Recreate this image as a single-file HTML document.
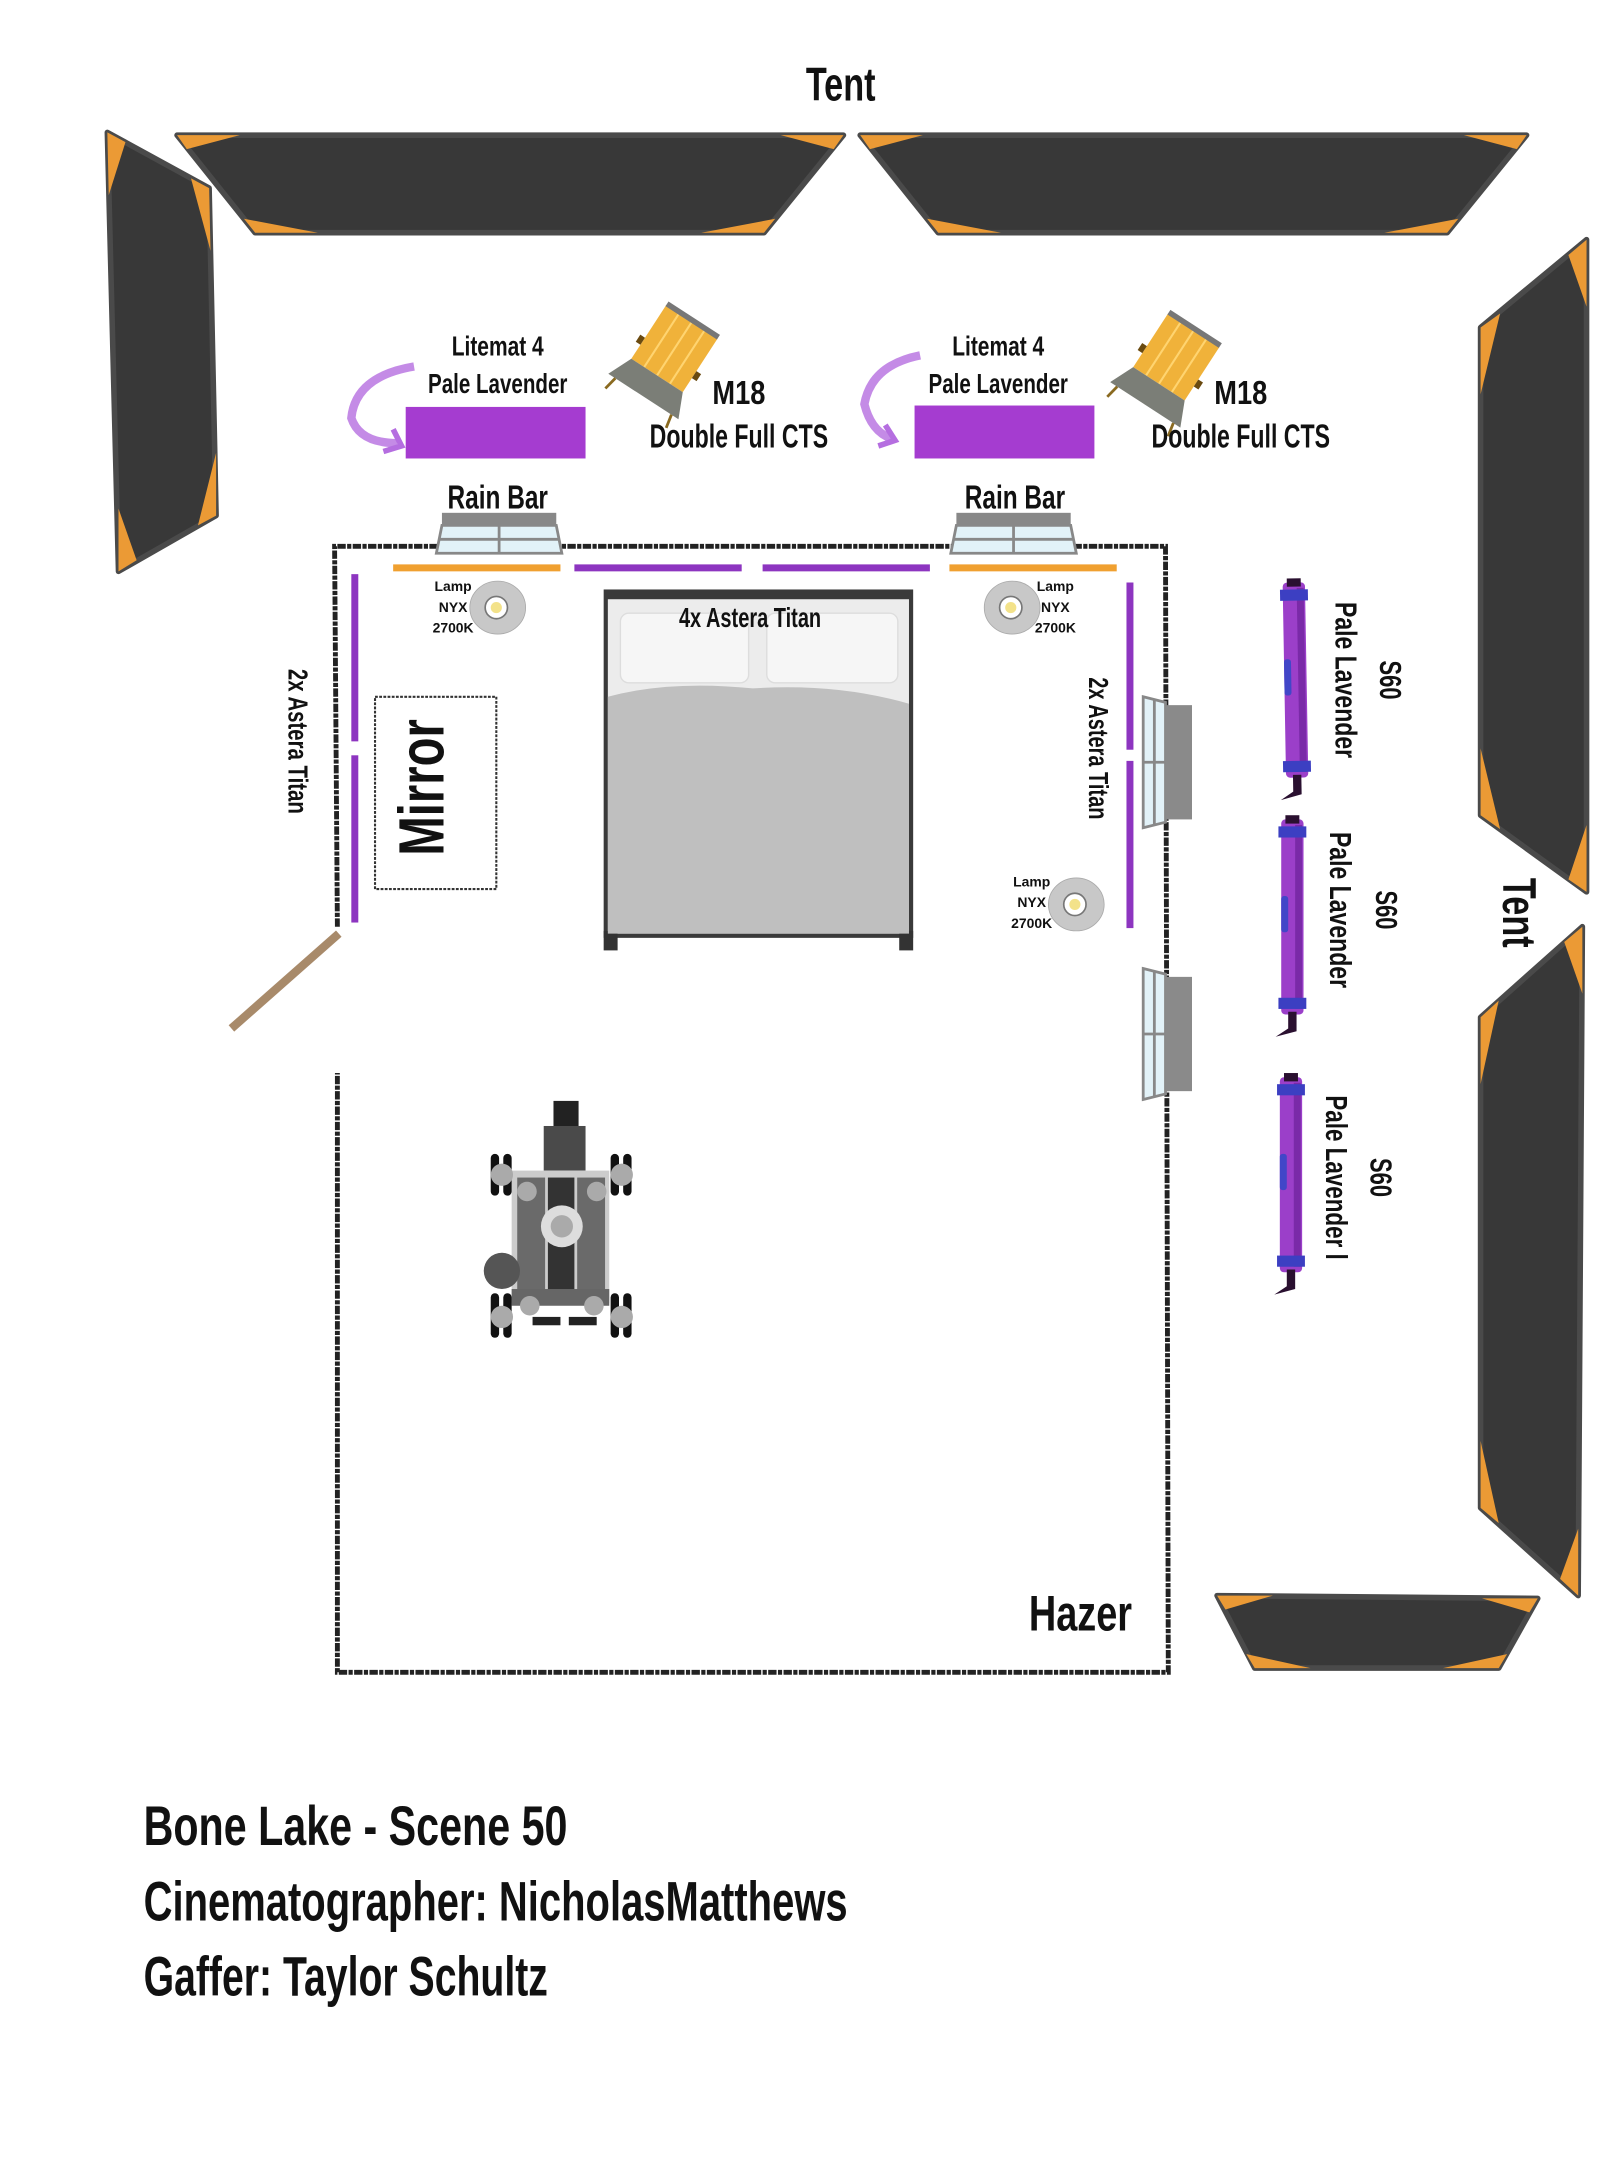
<!DOCTYPE html>
<html><head><meta charset="utf-8"><style>
html,body{margin:0;padding:0;background:#fff;}
svg{display:block;}
text{font-family:"Liberation Sans Narrow","Liberation Sans",sans-serif;fill:#111;font-weight:bold;}
</style></head><body>
<svg width="1620" height="2160" viewBox="0 0 1162 1550" preserveAspectRatio="none" xmlns="http://www.w3.org/2000/svg">
<defs>
<g id="flagH">
<polygon points="0,0 478,0 421,70 56,70" fill="#383838" stroke="#4a4a4a" stroke-width="4" stroke-linejoin="round"/>
<polygon points="0,0 45,0 7,10" fill="#eb9a35"/>
<polygon points="478,0 433,0 471,10" fill="#eb9a35"/>
<polygon points="421,70 376,70 429,60" fill="#eb9a35"/>
<polygon points="56,70 101,70 48,60" fill="#eb9a35"/>
</g>
<g id="tube">
<rect x="-8" y="0" width="16" height="140" rx="3" fill="#9b3fc9"/>
<rect x="2" y="4" width="5" height="132" fill="#7a2aa8"/>
<rect x="-10" y="5" width="20" height="8" fill="#3c3fc2"/>
<rect x="-10" y="128" width="20" height="8" fill="#3c3fc2"/>
<rect x="-8" y="55" width="5" height="26" rx="2" fill="#4246c8"/>
<rect x="-5" y="-3" width="10" height="6" fill="#2a1030"/>
<path d="M-3,138 L3,138 L3,152 L-12,156 L-3,150 Z" fill="#2a1030"/>
</g>
<g id="lamp">
<ellipse cx="0" cy="0" rx="20" ry="19" fill="#c8c8c8" stroke="#aaa" stroke-width="0.6"/>
<circle cx="-1" cy="0" r="8" fill="#fff" stroke="#777" stroke-width="1.2"/>
<circle cx="-1" cy="0" r="4" fill="#f3e28a"/>
</g>
<g id="rain">
<rect x="4" y="0" width="82" height="9" fill="#888"/>
<polygon points="4,9 86,9 90,29 0,29" fill="#e2f2f8" stroke="#888" stroke-width="2"/>
<line x1="45" y1="9" x2="45" y2="29" stroke="#888" stroke-width="2"/>
<line x1="2" y1="19" x2="88" y2="19" stroke="#888" stroke-width="2"/>
</g>
<g id="win">
<polygon points="0,0 16,4 16,90 0,94" fill="#e2f2f8" stroke="#888" stroke-width="2"/>
<rect x="16" y="6" width="19" height="82" fill="#8a8a8a"/>
<line x1="8" y1="2" x2="8" y2="92" stroke="#888" stroke-width="2"/>
<line x1="0" y1="47" x2="16" y2="47" stroke="#888" stroke-width="2"/>
</g>
<g id="m18">
<rect x="-22" y="-30" width="44" height="46" fill="#f0b23a"/>
<line x1="-11" y1="-30" x2="-11" y2="16" stroke="#ffd470" stroke-width="1.5"/>
<line x1="0" y1="-30" x2="0" y2="16" stroke="#ffd470" stroke-width="1.5"/>
<line x1="11" y1="-30" x2="11" y2="16" stroke="#ffd470" stroke-width="1.5"/>
<rect x="-22" y="-33" width="44" height="4" fill="#777"/>
<polygon points="-22,16 22,16 30,34 -30,34" fill="#7b7e77"/>
<rect x="-26" y="-2" width="4" height="6" fill="#6a4a10"/>
<rect x="22" y="-2" width="4" height="6" fill="#6a4a10"/>
<line x1="-24" y1="34" x2="-26" y2="44" stroke="#8a6a20" stroke-width="2"/>
<line x1="24" y1="34" x2="26" y2="44" stroke="#8a6a20" stroke-width="2"/>
</g>
</defs>

<text x="603" y="72" font-size="34" text-anchor="middle" textLength="50" lengthAdjust="spacingAndGlyphs">Tent</text>

<use href="#flagH" x="127" y="97"/>
<use href="#flagH" x="617" y="97"/>

<!-- left flag -->
<polygon points="77,95 150,135 155,370 85,410" fill="#383838" stroke="#4a4a4a" stroke-width="4" stroke-linejoin="round"/>
<polygon points="77,95 78,140 90,102" fill="#eb9a35"/>
<polygon points="150,135 151,180 137,128" fill="#eb9a35"/>
<polygon points="155,370 155,325 142,377" fill="#eb9a35"/>
<polygon points="85,410 85,365 98,402" fill="#eb9a35"/>

<!-- right upper flag -->
<polygon points="1138,172 1138,640 1062,585 1062,235" fill="#383838" stroke="#4a4a4a" stroke-width="4" stroke-linejoin="round"/>
<polygon points="1138,172 1138,220 1125,183" fill="#eb9a35"/>
<polygon points="1138,640 1138,592 1125,631" fill="#eb9a35"/>
<polygon points="1062,585 1062,537 1076,595" fill="#eb9a35"/>
<polygon points="1062,235 1062,283 1076,225" fill="#eb9a35"/>

<!-- right lower flag -->
<polygon points="1135,665 1132,1145 1062,1082 1062,730" fill="#383838" stroke="#4a4a4a" stroke-width="4" stroke-linejoin="round"/>
<polygon points="1135,665 1135,713 1122,676" fill="#eb9a35"/>
<polygon points="1132,1145 1132,1097 1119,1133" fill="#eb9a35"/>
<polygon points="1062,1082 1062,1034 1075,1093" fill="#eb9a35"/>
<polygon points="1062,730 1062,778 1075,718" fill="#eb9a35"/>

<!-- bottom flag -->
<polygon points="873,1145 1103,1147 1075,1197 900,1197" fill="#383838" stroke="#4a4a4a" stroke-width="4" stroke-linejoin="round"/>
<polygon points="873,1145 913,1145 879,1155" fill="#eb9a35"/>
<polygon points="1103,1147 1063,1147 1097,1157" fill="#eb9a35"/>
<polygon points="1075,1197 1035,1197 1081,1187" fill="#eb9a35"/>
<polygon points="900,1197 940,1197 894,1187" fill="#eb9a35"/>

<text x="1078" y="655" font-size="34" text-anchor="middle" transform="rotate(90 1078 655)" textLength="50" lengthAdjust="spacingAndGlyphs">Tent</text>

<!-- room walls -->
<g fill="none" stroke="#222" stroke-width="3.5" stroke-dasharray="6 1 3 1">
<polyline points="242,665 240,392 836,392 838,1200 242,1200 242,770"/>
</g>
<line x1="243" y1="670" x2="166" y2="738" stroke="#a88a6a" stroke-width="6"/>

<use href="#rain" x="313" y="368"/>
<use href="#rain" x="682" y="368"/>
<text x="357" y="365" font-size="24" text-anchor="middle" textLength="72" lengthAdjust="spacingAndGlyphs">Rain Bar</text>
<text x="728" y="365" font-size="24" text-anchor="middle" textLength="72" lengthAdjust="spacingAndGlyphs">Rain Bar</text>

<!-- strips -->
<rect x="282" y="405" width="120" height="5" fill="#f0a030"/>
<rect x="412" y="405" width="120" height="5" fill="#8d35c0"/>
<rect x="547" y="405" width="120" height="5" fill="#8d35c0"/>
<rect x="681" y="405" width="120" height="5" fill="#f0a030"/>
<rect x="252" y="412" width="5" height="120" fill="#8d35c0"/>
<rect x="252" y="542" width="5" height="120" fill="#8d35c0"/>
<rect x="808" y="418" width="5" height="120" fill="#8d35c0"/>
<rect x="808" y="546" width="5" height="120" fill="#8d35c0"/>

<!-- lamps -->
<use href="#lamp" x="357" y="436"/>
<use href="#lamp" x="726" y="436"/>
<use href="#lamp" x="772" y="649"/>
<g font-size="10" text-anchor="middle">
<text x="325" y="424">Lamp</text><text x="325" y="439">NYX</text><text x="325" y="454">2700K</text>
<text x="757" y="424">Lamp</text><text x="757" y="439">NYX</text><text x="757" y="454">2700K</text>
<text x="740" y="636">Lamp</text><text x="740" y="651">NYX</text><text x="740" y="666">2700K</text>
</g>

<!-- bed -->
<rect x="433" y="423" width="222" height="250" fill="#3a3a3a"/>
<rect x="436" y="430" width="216" height="240" fill="#ececec"/>
<rect x="433" y="668" width="10" height="14" fill="#333"/>
<rect x="645" y="668" width="10" height="14" fill="#333"/>
<rect x="445" y="440" width="92" height="50" rx="6" fill="#f6f6f6" stroke="#ddd"/>
<rect x="550" y="440" width="94" height="50" rx="6" fill="#f6f6f6" stroke="#ddd"/>
<path d="M436,500 Q480,488 540,494 Q600,490 652,505 L652,670 L436,670 Z" fill="#bfbfbf"/>
<text x="538" y="450" font-size="20" text-anchor="middle" textLength="102" lengthAdjust="spacingAndGlyphs">4x Astera Titan</text>

<!-- mirror -->
<rect x="269" y="500" width="87" height="138" fill="#fff" stroke="#333" stroke-width="1.5" stroke-dasharray="2 1"/>
<text x="318" y="565" font-size="46" text-anchor="middle" transform="rotate(-90 318 565)" textLength="98" lengthAdjust="spacingAndGlyphs">Mirror</text>

<text x="207" y="532" font-size="20" text-anchor="middle" transform="rotate(90 207 532)" textLength="104" lengthAdjust="spacingAndGlyphs">2x Astera Titan</text>
<text x="781" y="537" font-size="20" text-anchor="middle" transform="rotate(90 781 537)" textLength="102" lengthAdjust="spacingAndGlyphs">2x Astera Titan</text>

<use href="#win" x="820" y="500"/>
<use href="#win" x="820" y="695"/>

<!-- S60 tubes -->
<use href="#tube" x="928" y="418" transform="rotate(-1 928 418)"/>
<use href="#tube" x="927" y="588"/>
<use href="#tube" x="926" y="773"/>
<g font-size="22" text-anchor="middle">
<text x="990" y="488" transform="rotate(90 990 488)" textLength="28" lengthAdjust="spacingAndGlyphs">S60</text>
<text x="958" y="488" transform="rotate(90 958 488)" textLength="112" lengthAdjust="spacingAndGlyphs">Pale Lavender</text>
<text x="987" y="653" transform="rotate(90 987 653)" textLength="28" lengthAdjust="spacingAndGlyphs">S60</text>
<text x="954" y="653" transform="rotate(90 954 653)" textLength="112" lengthAdjust="spacingAndGlyphs">Pale Lavender</text>
<text x="983" y="845" transform="rotate(90 983 845)" textLength="28" lengthAdjust="spacingAndGlyphs">S60</text>
<text x="951" y="845" transform="rotate(90 951 845)" textLength="118" lengthAdjust="spacingAndGlyphs">Pale Lavender l</text>
</g>

<!-- litemats -->
<rect x="291" y="292" width="129" height="37" fill="#a53cd0"/>
<rect x="656" y="291" width="129" height="38" fill="#a53cd0"/>
<path d="M297,263 Q255,270 252,300 Q258,318 285,318" fill="none" stroke="#b56ee0" stroke-width="6" opacity="0.8"/>
<path d="M282,308 L288,320 L275,324" fill="none" stroke="#b56ee0" stroke-width="4"/>
<path d="M660,255 Q625,262 620,290 Q625,310 640,315" fill="none" stroke="#b56ee0" stroke-width="6" opacity="0.8"/>
<path d="M635,305 L642,316 L630,320" fill="none" stroke="#b56ee0" stroke-width="4"/>
<g font-size="20" text-anchor="middle">
<text x="357" y="255" textLength="66" lengthAdjust="spacingAndGlyphs">Litemat 4</text>
<text x="357" y="282" textLength="100" lengthAdjust="spacingAndGlyphs">Pale Lavender</text>
<text x="716" y="255" textLength="66" lengthAdjust="spacingAndGlyphs">Litemat 4</text>
<text x="716" y="282" textLength="100" lengthAdjust="spacingAndGlyphs">Pale Lavender</text>
</g>
<use href="#m18" transform="translate(480,256) rotate(33)"/>
<use href="#m18" transform="translate(840,262) rotate(33)"/>
<g font-size="24" text-anchor="middle">
<text x="530" y="290" textLength="38" lengthAdjust="spacingAndGlyphs">M18</text>
<text x="530" y="321" textLength="128" lengthAdjust="spacingAndGlyphs">Double Full CTS</text>
<text x="890" y="290" textLength="38" lengthAdjust="spacingAndGlyphs">M18</text>
<text x="890" y="321" textLength="128" lengthAdjust="spacingAndGlyphs">Double Full CTS</text>
</g>

<!-- camera dolly -->
<g>
<rect x="397" y="790" width="18" height="22" fill="#222"/>
<rect x="390" y="808" width="30" height="32" fill="#4a4a4a"/>
<rect x="367" y="840" width="70" height="95" fill="#ccc"/>
<rect x="371" y="845" width="20" height="85" fill="#6a6a6a"/>
<rect x="414" y="845" width="20" height="85" fill="#6a6a6a"/>
<rect x="393" y="845" width="19" height="85" fill="#333"/>
<circle cx="403" cy="880" r="15" fill="#ddd"/>
<circle cx="403" cy="880" r="8" fill="#aaa"/>
<rect x="367" y="925" width="70" height="12" fill="#666"/>
<circle cx="360" cy="912" r="13" fill="#555"/>
<rect x="352" y="828" width="6" height="30" rx="3" fill="#111"/><rect x="361" y="828" width="6" height="30" rx="3" fill="#111"/>
<rect x="438" y="828" width="6" height="30" rx="3" fill="#111"/><rect x="447" y="828" width="6" height="30" rx="3" fill="#111"/>
<rect x="352" y="928" width="6" height="32" rx="3" fill="#111"/><rect x="361" y="928" width="6" height="32" rx="3" fill="#111"/>
<rect x="438" y="928" width="6" height="32" rx="3" fill="#111"/><rect x="447" y="928" width="6" height="32" rx="3" fill="#111"/>
<circle cx="360" cy="843" r="8" fill="#aaa"/><circle cx="446" cy="843" r="8" fill="#aaa"/>
<circle cx="360" cy="945" r="8" fill="#aaa"/><circle cx="446" cy="945" r="8" fill="#aaa"/>
<circle cx="378" cy="855" r="7" fill="#aaa"/><circle cx="428" cy="855" r="7" fill="#aaa"/>
<circle cx="380" cy="937" r="7" fill="#aaa"/><circle cx="426" cy="937" r="7" fill="#aaa"/>
<rect x="382" y="945" width="20" height="6" fill="#222"/><rect x="408" y="945" width="20" height="6" fill="#222"/>
</g>

<text x="775" y="1170" font-size="36" text-anchor="middle" textLength="74" lengthAdjust="spacingAndGlyphs">Hazer</text>

<g font-size="40">
<text x="103" y="1324" textLength="304" lengthAdjust="spacingAndGlyphs">Bone Lake - Scene 50</text>
<text x="103" y="1378" textLength="505" lengthAdjust="spacingAndGlyphs">Cinematographer: NicholasMatthews</text>
<text x="103" y="1432" textLength="290" lengthAdjust="spacingAndGlyphs">Gaffer: Taylor Schultz</text>
</g>
</svg>
</body></html>
